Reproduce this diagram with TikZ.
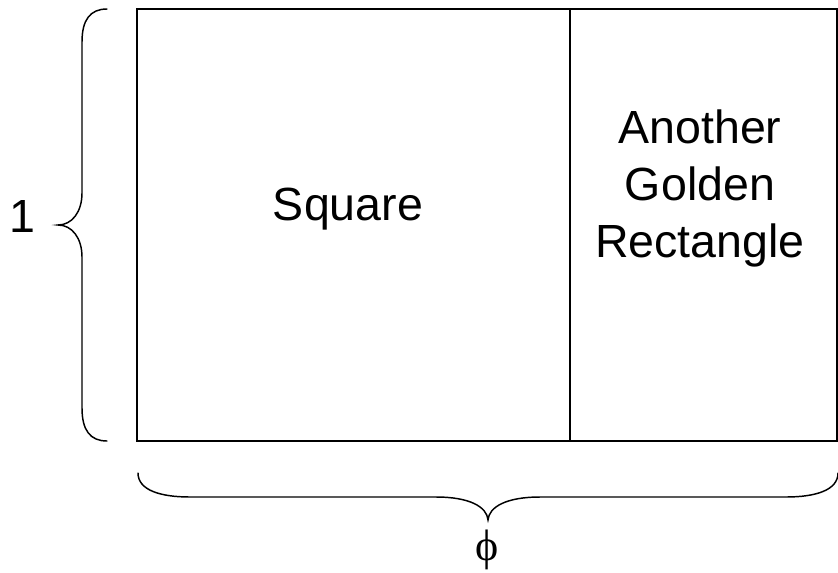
\documentclass[tikz,border=0pt]{standalone}
\usepackage{fontspec}
\setmainfont{Liberation Sans}
\newfontfamily\serifphi{Liberation Serif}
\begin{document}
\begin{tikzpicture}[x=0.75pt,y=-0.75pt,
  frame/.style={draw=black,line width=1.1pt},
  bracestyle/.style={draw=black,line width=1.1pt,line cap=round},
  lbl/.style={inner sep=0pt,font=\fontsize{34.9pt}{42.4pt}\selectfont},
  philbl/.style={inner sep=0pt,font=\fontsize{33pt}{40pt}\serifphi}]
\useasboundingbox (0,0) rectangle (838,572);
% rectangles
\draw[frame] (137,9) rectangle (570,441);
\draw[frame] (570,9) rectangle (837,441);
% texts
\node[lbl,anchor=base] (sq) at (348,220) {Square};
\node[lbl,align=center,anchor=base] (gr) at (700,257) {Another\\Golden\\Rectangle};
\node[lbl,anchor=base] (one) at (22,232) {1};
\node[philbl] (phi) at (487,550) {ϕ};
% left brace
\draw[bracestyle] (107,9) .. controls (90,9) and (82,20) .. (82,42)
  -- (82,193) .. controls (82,212) and (72,225) .. (58,225)
  .. controls (72,225) and (82,238) .. (82,257)
  -- (82,408) .. controls (82,430) and (90,441) .. (107,441);
% bottom brace
\draw[bracestyle] (138,473) .. controls (138,490) and (160,497) .. (190,497)
  -- (436,497) .. controls (470,497) and (487,507) .. (488,520)
  .. controls (489,507) and (506,497) .. (540,497)
  -- (786,497) .. controls (816,497) and (838,490) .. (838,473);
\end{tikzpicture}
\end{document}
